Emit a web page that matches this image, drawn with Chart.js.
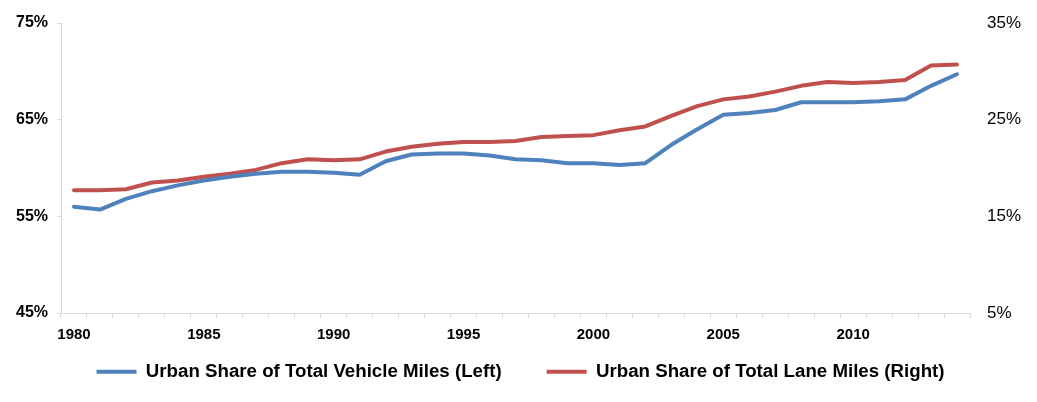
<!DOCTYPE html>
<html>
<head>
<meta charset="utf-8">
<title>Urban share of vehicle miles and lane miles</title>
<script src="https://cdn.jsdelivr.net/npm/chart.js@4"></script>
<style>
  html, body { margin: 0; padding: 0; background: #fff; }
  canvas { display: block; }
</style>
</head>
<body>
<canvas id="myChart" width="1037" height="402"></canvas>
<script>
// data
const years = ["1980", "1981", "1982", "1983", "1984", "1985", "1986", "1987", "1988", "1989",
  "1990", "1991", "1992", "1993", "1994", "1995", "1996", "1997", "1998", "1999",
  "2000", "2001", "2002", "2003", "2004", "2005", "2006", "2007", "2008", "2009",
  "2010", "2011", "2012", "2013", "2014"];
const vehicleMiles = [56.0, 55.7, 56.8, 57.6, 58.2, 58.7, 59.1, 59.4, 59.6, 59.6,
  59.5, 59.3, 60.7, 61.4, 61.5, 61.5, 61.3, 60.9, 60.8, 60.5,
  60.5, 60.3, 60.5, 62.4, 64.0, 65.5, 65.7, 66.0, 66.8, 66.8,
  66.8, 66.9, 67.1, 68.5, 69.7];
const laneMiles = [17.7, 17.7, 17.8, 18.5, 18.7, 19.1, 19.4, 19.8, 20.5, 20.9,
  20.8, 20.9, 21.7, 22.2, 22.5, 22.7, 22.7, 22.8, 23.2, 23.3,
  23.4, 23.9, 24.3, 25.4, 26.4, 27.1, 27.4, 27.9, 28.5, 28.9,
  28.8, 28.9, 29.1, 30.6, 30.7];
const leftTicks = [45, 55, 65, 75];
const rightTicks = [5, 15, 25, 35];

const blue = "#4F81BD";
const red = "#C0504D";
const axisGrey = "#D9D9D9";

Chart.defaults.font.family = "'Liberation Sans', Arial, sans-serif";
Chart.defaults.color = "#000";

// legend keeps the wide gap between items, but its box is placed by hand
const legendPlace = {
  id: "legendPlace",
  beforeInit(chart) {
    const fit = chart.legend.fit;
    chart.legend.fit = function () {
      fit.call(this);
      this.height = 54;
    };
  },
  afterLayout(chart) {
    const lg = chart.legend;
    lg.top = 317.5;
    lg.bottom = chart.height;
    lg.height = lg.bottom - lg.top;
    lg.left += 2;
    lg.right += 2;
  },
};

const ctx = document.getElementById("myChart");
new Chart(ctx, {
  type: "line",
  data: {
    labels: years,
    datasets: [
      {
        label: "Urban Share of Total Vehicle Miles (Left)",
        data: vehicleMiles,
        yAxisID: "yLeft",
        borderColor: blue,
        backgroundColor: blue,
        borderWidth: 4,
        borderCapStyle: "round",
        borderJoinStyle: "round",
        pointRadius: 0,
        pointStyle: "line",
        tension: 0,
      },
      {
        label: "Urban Share of Total Lane Miles (Right)",
        data: laneMiles,
        yAxisID: "yRight",
        borderColor: red,
        backgroundColor: red,
        borderWidth: 4,
        borderCapStyle: "round",
        borderJoinStyle: "round",
        pointRadius: 0,
        pointStyle: "line",
        tension: 0,
      },
    ],
  },
  options: {
    responsive: false,
    animation: false,
    devicePixelRatio: 1,
    layout: { padding: { top: 23, left: 0, right: 0, bottom: 0 } },
    plugins: {
      tooltip: { enabled: false },
      legend: {
        position: "bottom",
        labels: {
          usePointStyle: true,
          pointStyleWidth: 40,
          padding: 45,
          color: "#000",
          font: { size: 18.7, weight: "bold" },
        },
      },
    },
    scales: {
      x: {
        offset: true,
        afterFit(scale) { scale.height = 35; },
        grid: {
          offset: true,
          drawOnChartArea: false,
          drawTicks: true,
          tickLength: 5,
          color: axisGrey,
        },
        border: { display: true, color: axisGrey, width: 1 },
        ticks: {
          autoSkip: false,
          maxRotation: 0,
          padding: 8,
          color: "#000",
          font: { size: 15, weight: "bold" },
          callback(value) {
            const y = Number(years[value]);
            return y % 5 === 0 ? years[value] : "";
          },
        },
      },
      yLeft: {
        position: "left",
        min: leftTicks[0],
        max: leftTicks[leftTicks.length - 1],
        afterFit(scale) { scale.width = 61; },
        afterBuildTicks(scale) { scale.ticks = leftTicks.map(v => ({ value: v })); },
        grid: {
          drawOnChartArea: false,
          drawTicks: true,
          tickLength: 4,
          color: axisGrey,
        },
        border: { display: true, color: axisGrey, width: 1 },
        ticks: {
          padding: 9,
          color: "#000",
          font: { size: 16, weight: "bold" },
          callback: v => v + "%",
        },
      },
      yRight: {
        position: "right",
        min: rightTicks[0],
        max: rightTicks[rightTicks.length - 1],
        afterFit(scale) { scale.width = 67; },
        afterBuildTicks(scale) { scale.ticks = rightTicks.map(v => ({ value: v })); },
        grid: { display: false },
        border: { display: false },
        ticks: {
          padding: 9,
          color: "#000",
          font: { size: 17 },
          callback: v => v + "%",
        },
      },
    },
  },
  plugins: [legendPlace],
});
</script>
</body>
</html>
